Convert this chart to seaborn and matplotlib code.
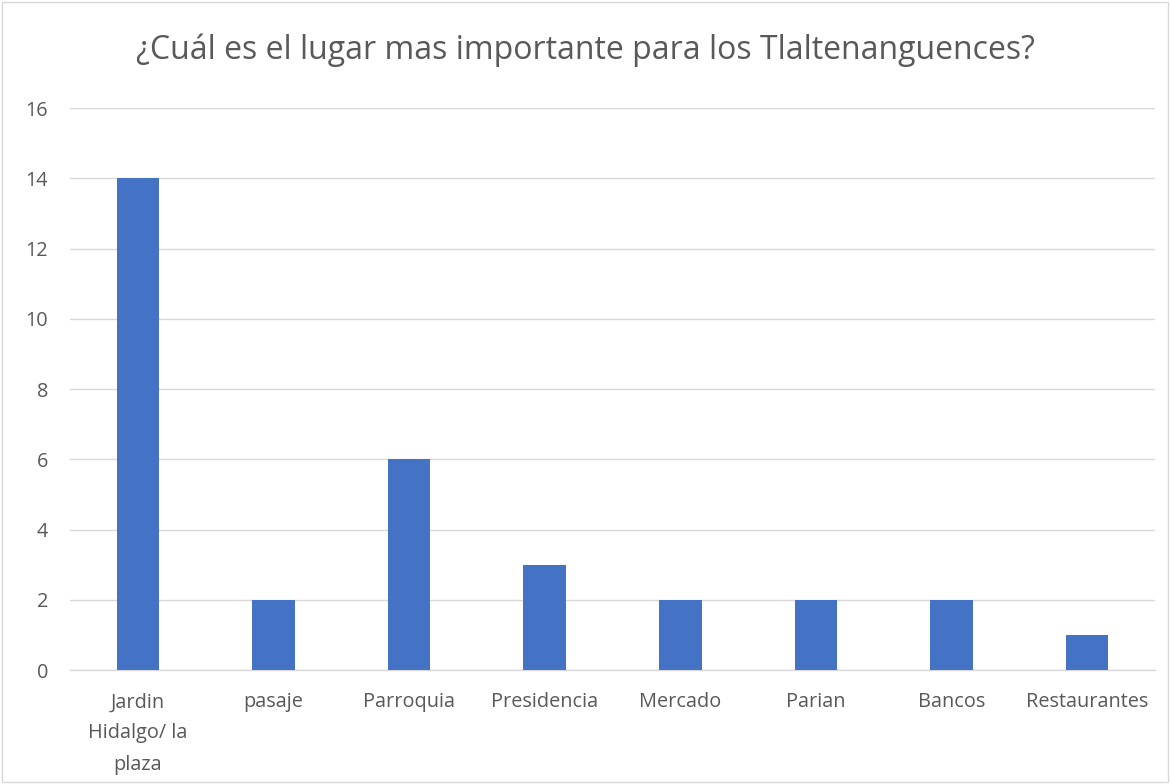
import matplotlib
matplotlib.use("Agg")
import matplotlib.pyplot as plt
import seaborn as sns
import pandas as pd
from matplotlib.patches import Rectangle

categories = ["Jardin\nHidalgo/ la\nplaza", "pasaje", "Parroquia", "Presidencia",
              "Mercado", "Parian", "Bancos", "Restaurantes"]
values = [14, 2, 6, 3, 2, 2, 2, 1]
yticks = [0, 2, 4, 6, 8, 10, 12, 14, 16]
title = "¿Cuál es el lugar mas importante para los Tlaltenanguences?"

sns.set_theme(style="white")
plt.rcParams['font.family'] = ['Open Sans', 'DejaVu Sans']

fig = plt.figure(figsize=(11.7, 7.84), dpi=100)
ax = fig.add_axes([0.060, 0.1454, 0.927, 0.7168])

df = pd.DataFrame({"cat": categories, "val": values})
sns.barplot(data=df, x="cat", y="val", color="#4472C4", width=0.315,
            saturation=1, ax=ax, zorder=3, linewidth=0)

ax.set_ylim(0, 16)
ax.set_yticks(yticks)
ax.set_xlim(-0.5, len(categories) - 0.5)
ax.yaxis.grid(True, color="#d9d9d9", linewidth=1, zorder=0)
ax.set_axisbelow(True)
for s in ["top", "right", "left"]:
    ax.spines[s].set_visible(False)
ax.spines["bottom"].set_color("#d9d9d9")
ax.spines["bottom"].set_linewidth(1)
ax.set_xlabel("")
ax.set_ylabel("")
ax.tick_params(axis="both", length=0, labelsize=14.3, colors="#595959")
ax.tick_params(axis="y", pad=16)
ax.tick_params(axis="x", pad=16)
for lbl in ax.get_xticklabels():
    lbl.set_linespacing(1.75)

fig.text(0.5, 0.936, title, ha="center", va="center", fontsize=23, color="#595959")

fig.patches.append(Rectangle((0.002, 0.002), 0.996, 0.996, transform=fig.transFigure,
                             fill=False, edgecolor="#d9d9d9", linewidth=1))

fig.savefig("out.png", dpi=100)
